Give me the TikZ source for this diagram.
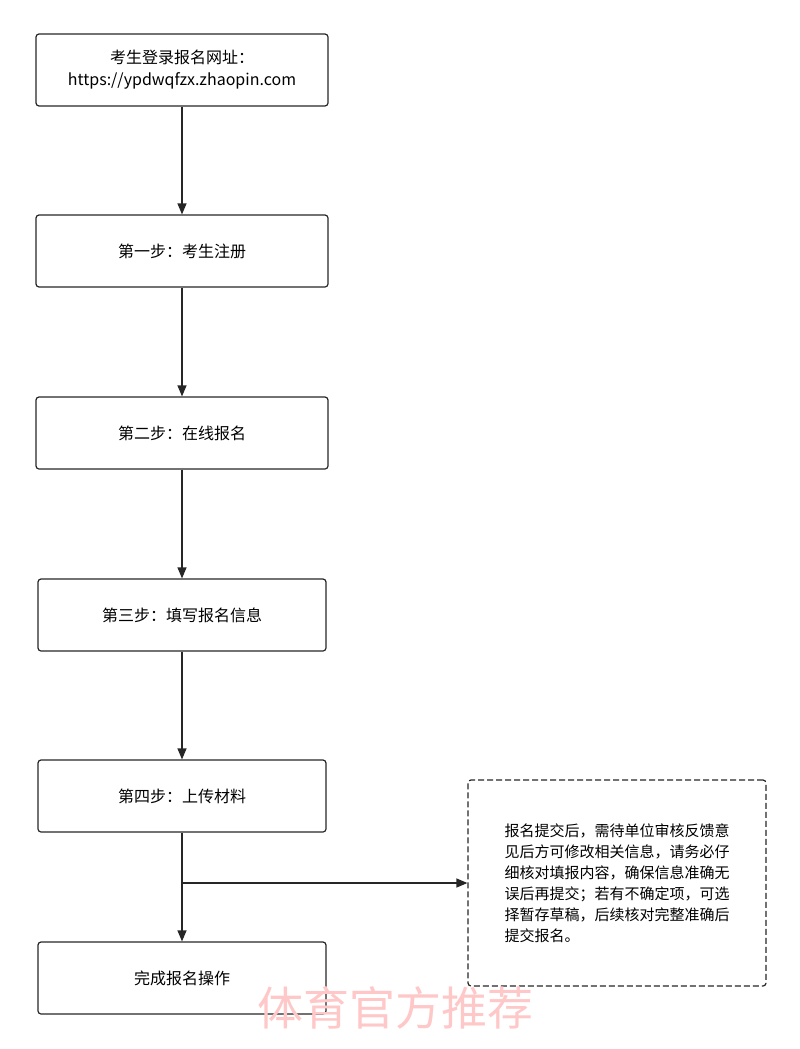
\documentclass[tikz,border=0pt]{standalone}
\usepackage{fontspec}
\setmainfont{Noto Sans CJK SC}
\usetikzlibrary{positioning,arrows.meta}
\tikzset{
  stage/.style={draw=black!85, line width=1.2pt, rounded corners=3pt, minimum width=292pt, minimum height=72pt, align=center, font=\fontsize{16}{22}\selectfont},
  note/.style={draw=black!85, line width=1.2pt, dash pattern=on 6pt off 3pt, rounded corners=3pt, minimum width=298pt, minimum height=206pt, align=left, font=\fontsize{15}{21}\selectfont},
  link/.style={draw=black!85, line width=1.2pt, -{Triangle[length=11pt,width=9pt]}}
}
\begin{document}
\begin{tikzpicture}[x=1pt,y=-1pt]
  \useasboundingbox (0,0) rectangle (800,1049);
  \node [stage] (login) at (182,70) {考生登录报名网址：\\https://ypdwqfzx.zhaopin.com};
  \node [stage] (reg) at (182,251) {第一步：考生注册};
  \node [stage] (apply) at (182,433) {第二步：在线报名};
  \node [stage, minimum width=288pt] (fill) at (182,615) {第三步：填写报名信息};
  \node [stage, minimum width=288pt] (upload) at (182,796) {第四步：上传材料};
  \node [stage, minimum width=288pt] (done) at (182,978) {完成报名操作};
  \node [note] (tip) at (617,883) {报名提交后，需待单位审核反馈意\\见后方可修改相关信息，请务必仔\\细核对填报内容，确保信息准确无\\误后再提交；若有不确定项，可选\\择暂存草稿，后续核对完整准确后\\提交报名。};
  \coordinate (split) at (182,883);
  \draw [link] (login) -- (reg);
  \draw [link] (reg) -- (apply);
  \draw [link] (apply) -- (fill);
  \draw [link] (fill) -- (upload);
  \draw [link] (upload) -- (done);
  \draw [link] (split) -- (tip);
  \node [text=pink!70!red!45, font=\fontsize{46}{46}\selectfont] (mark) at (395,1008) {体育官方推荐};
\end{tikzpicture}
\end{document}
